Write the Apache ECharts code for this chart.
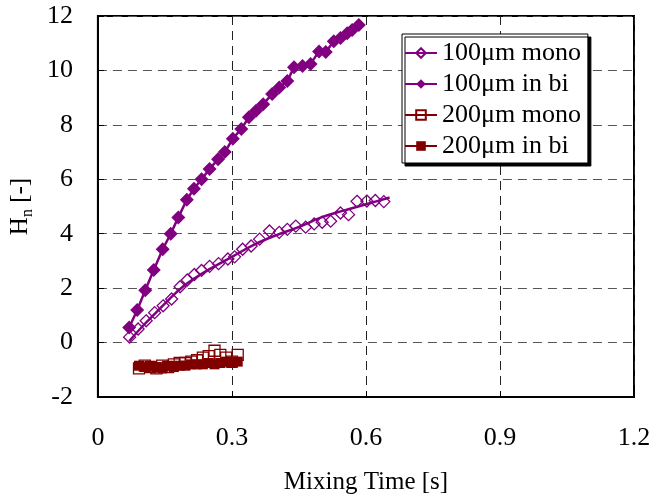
<!DOCTYPE html>
<html>
<head>
<meta charset="utf-8">
<script src="https://cdn.jsdelivr.net/npm/echarts@6/dist/echarts.min.js"></script>
<style>
  html, body { margin: 0; padding: 0; background: #fff; }
  #chart { width: 668px; height: 500px; }
</style>
</head>
<body>
<div id="chart"></div>
<script>
// Series names as shown in the legend
const seriesNames = ['100μm mono', '100μm in bi', '200μm mono', '200μm in bi'];

// Axis ticks
const xTicks = [0, 0.3, 0.6, 0.9, 1.2];
const yTicks = [-2, 0, 2, 4, 6, 8, 10, 12];

// 100 μm particles, mono-dispersed bed
const mono100Time = [0.071, 0.09, 0.108, 0.127, 0.146, 0.165, 0.184, 0.2, 0.216, 0.232, 0.25, 0.27, 0.291, 0.306, 0.324, 0.343, 0.362, 0.384, 0.406, 0.424, 0.443, 0.465, 0.484, 0.502, 0.521, 0.543, 0.561, 0.58, 0.602, 0.621, 0.64];
const mono100Hn   = [0.2, 0.5, 0.8, 1.1, 1.35, 1.6, 2.05, 2.3, 2.5, 2.65, 2.8, 2.9, 3.07, 3.15, 3.43, 3.55, 3.8, 4.1, 4.05, 4.16, 4.28, 4.24, 4.36, 4.42, 4.46, 4.76, 4.7, 5.19, 5.2, 5.22, 5.18];

// Fitted trend drawn through the mono-dispersed 100 μm points
const mono100FitTime = [0.07, 0.1, 0.13, 0.16, 0.19, 0.22, 0.25, 0.3, 0.35, 0.4, 0.45, 0.5, 0.55, 0.6, 0.653];
const mono100FitHn   = [0.05, 0.6, 1.1, 1.6, 2.05, 2.4, 2.7, 3.15, 3.6, 3.95, 4.25, 4.6, 4.85, 5.08, 5.33];

// 100 μm particles in the bi-dispersed bed
const bi100Time = [0.07, 0.088, 0.106, 0.125, 0.145, 0.163, 0.18, 0.199, 0.215, 0.232, 0.25, 0.269, 0.284, 0.302, 0.321, 0.338, 0.354, 0.37, 0.39, 0.406, 0.424, 0.439, 0.458, 0.476, 0.495, 0.51, 0.528, 0.543, 0.558, 0.569, 0.584];
const bi100Hn   = [0.55, 1.2, 1.92, 2.67, 3.43, 4.0, 4.6, 5.25, 5.65, 6.0, 6.38, 6.74, 7.0, 7.49, 7.85, 8.28, 8.52, 8.76, 9.13, 9.37, 9.61, 10.12, 10.16, 10.24, 10.7, 10.68, 11.07, 11.19, 11.37, 11.49, 11.67];

// 200 μm particles, mono-dispersed bed
const mono200Time = [0.092, 0.105, 0.118, 0.131, 0.144, 0.157, 0.17, 0.183, 0.196, 0.209, 0.222, 0.235, 0.248, 0.261, 0.274, 0.287, 0.3, 0.313];
const mono200Hn   = [-0.95, -0.85, -0.9, -0.95, -0.85, -0.9, -0.8, -0.75, -0.75, -0.7, -0.65, -0.55, -0.5, -0.3, -0.45, -0.55, -0.7, -0.45];

// 200 μm particles in the bi-dispersed bed
const bi200Time = [0.092, 0.105, 0.118, 0.131, 0.144, 0.157, 0.17, 0.183, 0.196, 0.209, 0.222, 0.235, 0.248, 0.261, 0.274, 0.287, 0.3, 0.313];
const bi200Hn   = [-0.85, -0.9, -0.85, -0.9, -0.95, -0.85, -0.9, -0.85, -0.85, -0.8, -0.8, -0.8, -0.75, -0.8, -0.75, -0.7, -0.75, -0.7];

const PURPLE = '#800080';
const MAROON = '#800000';
const FONT = '"Liberation Serif", "Times New Roman", serif';

const pairs = (xs, ys) => xs.map((x, i) => [x, ys[i]]);

const chart = echarts.init(document.getElementById('chart'), null, { renderer: 'canvas' });

chart.setOption({
  animation: false,
  backgroundColor: '#fff',
  textStyle: { fontFamily: FONT, color: '#000' },
  grid: {
    left: 94, right: 34, top: 16, bottom: 99,
    show: true, borderColor: '#000', borderWidth: 2, backgroundColor: 'transparent'
  },
  legend: {
    orient: 'vertical',
    left: 402, top: 34,
    padding: [6, 7, 4, 2],
    itemGap: 5,
    itemWidth: 32, itemHeight: 12,
    backgroundColor: '#fff',
    borderColor: '#000', borderWidth: 1,
    shadowColor: '#000', shadowBlur: 0, shadowOffsetX: 3, shadowOffsetY: 3,
    textStyle: { fontFamily: FONT, fontSize: 26, color: '#000' },
    data: [
      { name: seriesNames[0], lineStyle: { opacity: 1, width: 2, color: PURPLE } },
      { name: seriesNames[1] },
      { name: seriesNames[2], lineStyle: { opacity: 1, width: 2, color: MAROON } },
      { name: seriesNames[3] }
    ]
  },
  xAxis: {
    type: 'value',
    min: xTicks[0], max: xTicks[xTicks.length - 1], interval: 0.3,
    name: 'Mixing Time [s]',
    nameLocation: 'middle', nameGap: 73,
    nameTextStyle: { fontFamily: FONT, fontSize: 25, color: '#000' },
    axisLine: { show: true, onZero: false, lineStyle: { color: '#000', width: 2 } },
    axisTick: { show: true, inside: true, length: 6, lineStyle: { color: '#000', width: 1 } },
    axisLabel: {
      margin: 28, fontFamily: FONT, fontSize: 26, color: '#000',
      formatter: v => (Math.abs(v) < 1e-9 ? '0' : v.toFixed(1))
    },
    splitLine: { show: true, lineStyle: { color: '#222', width: 1, type: [9, 6] } }
  },
  yAxis: {
    type: 'value',
    min: yTicks[0], max: yTicks[yTicks.length - 1], interval: 2,
    name: '{h|H}{s|n}{h| [-]}',
    nameLocation: 'middle', nameGap: 50, nameRotate: 90,
    nameTextStyle: {
      fontFamily: FONT, fontSize: 25, color: '#000',
      rich: {
        h: { fontFamily: FONT, fontSize: 25, color: '#000', lineHeight: 28, verticalAlign: 'bottom' },
        s: { fontFamily: FONT, fontSize: 16, color: '#000', lineHeight: 28, verticalAlign: 'bottom', padding: [0, 0, -3, 0] }
      }
    },
    axisLine: { show: true, onZero: false, lineStyle: { color: '#000', width: 2 } },
    axisTick: { show: true, inside: true, length: 6, lineStyle: { color: '#000', width: 1 } },
    axisLabel: { margin: 25, fontFamily: FONT, fontSize: 26, color: '#000' },
    splitLine: { show: true, lineStyle: { color: '#555', width: 1, type: [9, 6] } }
  },
  series: [
    {
      name: seriesNames[0],
      type: 'line',
      data: pairs(mono100Time, mono100Hn),
      symbol: 'diamond', symbolSize: 12,
      itemStyle: { color: 'rgba(255,255,255,0)', borderColor: PURPLE, borderWidth: 1.3 },
      lineStyle: { opacity: 0 },
      z: 3
    },
    {
      name: 'fit-100-mono',
      type: 'line',
      data: pairs(mono100FitTime, mono100FitHn),
      smooth: 0.4,
      showSymbol: false, symbol: 'none',
      lineStyle: { color: PURPLE, width: 2.5 },
      z: 4
    },
    {
      name: seriesNames[1],
      type: 'line',
      data: pairs(bi100Time, bi100Hn),
      symbol: 'diamond', symbolSize: 14,
      itemStyle: { color: PURPLE, borderColor: PURPLE, borderWidth: 0 },
      lineStyle: { color: PURPLE, width: 2.5 },
      z: 5
    },
    {
      name: seriesNames[2],
      type: 'line',
      data: pairs(mono200Time, mono200Hn),
      symbol: 'rect', symbolSize: 11,
      itemStyle: { color: 'rgba(255,255,255,0)', borderColor: MAROON, borderWidth: 1.3 },
      lineStyle: { opacity: 0 },
      z: 3
    },
    {
      name: seriesNames[3],
      type: 'line',
      data: pairs(bi200Time, bi200Hn),
      symbol: 'rect', symbolSize: 10,
      itemStyle: { color: MAROON, borderColor: MAROON, borderWidth: 0 },
      lineStyle: { color: MAROON, width: 2.5 },
      z: 5
    }
  ]
});
</script>
</body>
</html>
